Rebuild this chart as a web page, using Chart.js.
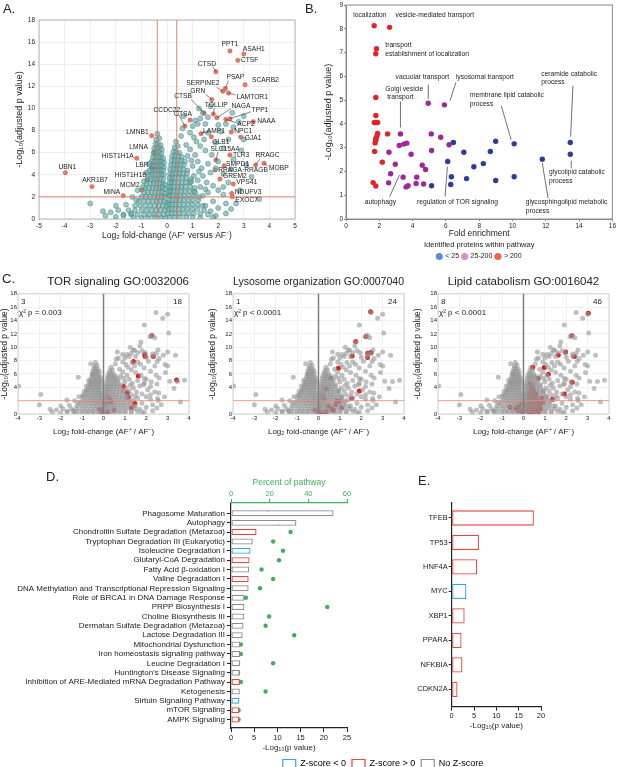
<!DOCTYPE html>
<html>
<head>
<meta charset="utf-8">
<script src="https://cdn.jsdelivr.net/npm/chart.js@4.4.1/dist/chart.umd.min.js"></script>
<style>
  html, body { margin: 0; padding: 0; background: #fff; overflow: hidden; }
  #fig { position: relative; width: 617px; height: 767px; overflow: hidden; font-family: "Liberation Sans", Arial, Helvetica, sans-serif; }
  canvas { position: absolute; }
  .tag { position: absolute; font-size: 13px; color: #222; line-height: 1; }
</style>
</head>
<body>
<div id="fig">
  <canvas id="volcano" width="300" height="241" style="left:0;top:0"></canvas>
  <canvas id="enrich" width="297" height="270" style="left:320px;top:0"></canvas>
  <canvas id="goTor" width="200" height="165" style="left:0;top:272px"></canvas>
  <canvas id="goLyso" width="205" height="165" style="left:205px;top:272px"></canvas>
  <canvas id="goLipid" width="207" height="165" style="left:410px;top:272px"></canvas>
  <canvas id="ipa" width="766" height="308" style="left:0;top:470px"></canvas>
  <canvas id="regulators" width="207" height="241" style="left:410px;top:490px"></canvas>
  <div class="tag" style="left:3px;top:2px">A.</div>
  <div class="tag" style="left:305px;top:2px">B.</div>
  <div class="tag" style="left:2px;top:272px">C.</div>
  <div class="tag" style="left:46px;top:470px">D.</div>
  <div class="tag" style="left:418px;top:474px">E.</div>
</div>
<script>
Chart.defaults.font.family = '"Liberation Sans", Arial, Helvetica, sans-serif';
Chart.defaults.color = '#222';

// ---- A: volcano plot (log2 FC, -log10 adj p) ----
const fcCut = 0.38;
const pCut = 2;

// dense left arm of the cloud
const cloudLeftArm = [
  [-0.38,7.7],[-0.3,7.3],[-0.42,7.2],
  [-0.45,6.8],[-0.35,6.8],[-0.25,6.7],
  [-0.5,6.4],[-0.4,6.4],[-0.3,6.4],[-0.2,6.3],
  [-0.52,6.0],[-0.42,6.0],[-0.32,6.0],[-0.22,5.9],
  [-0.55,5.6],[-0.45,5.6],[-0.35,5.6],[-0.25,5.6],[-0.15,5.5],
  [-0.6,5.2],[-0.5,5.2],[-0.4,5.2],[-0.3,5.2],[-0.2,5.2],[-0.12,5.1],
  [-0.62,4.8],[-0.52,4.8],[-0.42,4.8],[-0.32,4.8],[-0.22,4.8],[-0.12,4.7],
  [-0.68,4.4],[-0.56,4.4],[-0.45,4.4],[-0.35,4.4],[-0.25,4.4],[-0.15,4.4],
  [-0.7,4.0],[-0.58,4.0],[-0.46,4.0],[-0.34,4.0],[-0.22,4.0],[-0.12,4.0],
  [-0.75,3.6],[-0.62,3.6],[-0.5,3.6],[-0.38,3.6],[-0.26,3.6],[-0.14,3.6],
  [-0.8,3.2],[-0.66,3.2],[-0.52,3.2],[-0.4,3.2],[-0.28,3.2],[-0.16,3.2],[-0.08,3.1],
  [-0.85,2.8],[-0.7,2.8],[-0.56,2.8],[-0.42,2.8],[-0.3,2.8],[-0.18,2.8],[-0.08,2.7],
  [-0.9,2.4],[-0.75,2.4],[-0.6,2.4],[-0.46,2.4],[-0.32,2.4],[-0.2,2.4],[-0.08,2.3],
  [-1.0,2.0],[-0.82,2.0],[-0.66,2.0],[-0.5,2.0],[-0.36,2.0],[-0.22,2.0],[-0.1,2.0],
  [-1.1,1.6],[-0.9,1.6],[-0.72,1.6],[-0.56,1.6],[-0.4,1.6],[-0.26,1.6],[-0.12,1.6],[0.0,1.5],
  [-1.25,1.2],[-1.05,1.2],[-0.85,1.2],[-0.66,1.2],[-0.48,1.2],[-0.32,1.2],[-0.16,1.2],[-0.02,1.1],
  [-1.5,0.8],[-1.25,0.8],[-1.0,0.8],[-0.8,0.8],[-0.6,0.8],[-0.42,0.8],[-0.25,0.8],[-0.08,0.8],
  [-1.7,0.4],[-1.4,0.4],[-1.15,0.4],[-0.9,0.4],[-0.7,0.4],[-0.5,0.4],[-0.3,0.4],[-0.12,0.4],
  [-1.3,0.1],[-1.0,0.1],[-0.75,0.1],[-0.5,0.15],[-0.25,0.1],[-0.05,0.1]
];

// dense right arm of the cloud
const cloudRightArm = [
  [0.35,7.0],[0.42,6.6],[0.3,6.5],
  [0.25,6.1],[0.35,6.1],[0.48,6.0],
  [0.2,5.7],[0.32,5.7],[0.44,5.7],[0.58,5.6],
  [0.18,5.3],[0.3,5.3],[0.42,5.3],[0.55,5.3],[0.7,5.2],
  [0.15,4.9],[0.27,4.9],[0.4,4.9],[0.52,4.9],[0.66,4.9],
  [0.13,4.5],[0.25,4.5],[0.38,4.5],[0.5,4.5],[0.64,4.5],[0.8,4.4],
  [0.12,4.1],[0.22,4.1],[0.35,4.1],[0.48,4.1],[0.62,4.1],[0.78,4.1],
  [0.1,3.7],[0.2,3.7],[0.32,3.7],[0.45,3.7],[0.6,3.7],[0.75,3.7],[0.92,3.6],
  [0.1,3.3],[0.18,3.3],[0.3,3.3],[0.43,3.3],[0.58,3.3],[0.74,3.3],[0.9,3.3],
  [0.08,2.9],[0.16,2.9],[0.28,2.9],[0.42,2.9],[0.56,2.9],[0.72,2.9],[0.9,2.9],[1.08,2.8],
  [0.07,2.5],[0.14,2.5],[0.26,2.5],[0.4,2.5],[0.55,2.5],[0.7,2.5],[0.88,2.5],[1.06,2.5],
  [0.06,2.1],[0.12,2.1],[0.24,2.1],[0.38,2.1],[0.52,2.1],[0.68,2.1],[0.86,2.1],[1.05,2.1],[1.25,2.0],
  [0.1,1.7],[0.22,1.7],[0.36,1.7],[0.5,1.7],[0.66,1.7],[0.84,1.7],[1.02,1.7],[1.22,1.7],
  [0.08,1.3],[0.2,1.3],[0.34,1.3],[0.48,1.3],[0.64,1.3],[0.82,1.3],[1.0,1.3],[1.2,1.3],[1.4,1.2],
  [0.06,0.9],[0.18,0.9],[0.32,0.9],[0.46,0.9],[0.62,0.9],[0.8,0.9],[1.0,0.9],[1.2,0.9],[1.45,0.8],
  [0.05,0.5],[0.18,0.5],[0.32,0.5],[0.48,0.5],[0.65,0.5],[0.85,0.5],[1.05,0.5],[1.3,0.45],[1.6,0.4],
  [0.1,0.15],[0.3,0.15],[0.5,0.15],[0.75,0.15],[1.0,0.15],[1.3,0.1]
];

// sparser proteins around the arms
const cloudScatter = [
  [0.55,7.5],[0.6,8.2],[0.65,9.3],[0.75,6.7],[0.9,7.8],[1.0,8.4],[1.05,7.4],[1.1,8.9],
  [1.2,8.6],[1.25,10.0],[1.3,9.1],[1.4,9.6],[1.45,7.2],[1.5,8.6],[1.6,9.2],[1.7,10.2],
  [1.3,6.6],[0.9,6.3],[0.8,5.7],[1.1,5.8],[1.5,6.2],[1.2,5.2],[1.0,4.8],[1.35,4.6],
  [1.6,5.0],[1.7,4.2],[1.4,3.9],[1.2,3.5],[1.55,3.3],[1.8,3.0],[1.3,2.9],[2.0,2.6],
  [1.6,2.4],[2.2,2.2],[1.4,2.1],[1.8,1.6],[2.3,1.4],[2.7,1.4],[1.5,1.2],[2.0,1.0],
  [1.7,0.7],[2.2,2.9],[2.4,3.3],[2.2,4.1],[1.9,4.6],[2.5,4.5],[2.0,5.2],[2.6,5.4],
  [1.75,5.8],[2.2,6.4],[1.9,6.9],[2.4,7.2],[2.1,7.9],[2.6,8.3],[2.3,8.6],[2.8,8.8],
  [2.55,9.6],[3.0,9.3],[2.0,8.5],[2.9,6.2],[3.1,4.9],[3.3,3.8],[3.6,1.8],[2.85,2.6],
  [3.0,7.2],[1.15,7.0],[1.6,7.8],[0.95,5.3],[1.25,4.3],[1.05,3.9],[0.95,3.4],[1.5,2.7],
  [1.1,2.4],[1.9,0.3],[2.3,0.5],[2.5,0.9],[1.8,0.15],
  [-0.9,3.4],[-1.15,2.6],[-1.35,2.0],[-1.2,1.7],[-1.6,1.3],[-2.0,1.2],[-1.9,0.8],
  [-2.2,0.6],[-2.5,0.7],[-1.4,0.5],[-3.0,1.4],[-0.7,5.0],[-0.8,4.2],[-0.95,2.9],
  [-1.7,0.3],[-2.4,0.3],[-2.0,0.2]
];

// labelled proteins
const aGenes = ['PPT1','ASAH1','CTSF','CTSD','PSAP','SERPINE2','LAMTOR1','SCARB2','GRN','CTSB',
  'TOLLIP','NAGA','TPP1','CTSA','CCDC22','ACP2','NAAA','LAMP1','NPC1','GJA1','GLB1',
  'LMNB1','LMNA','HIST1H1A','LBR','HIST1H1B','MCM2','MINA','UBN1','AKR1B7',
  'SLC15A4','TLR3','RRAGC','MOBP','SMPD1','RRAGA·RRAGB','GREM2','VPS41','NDUFV3','EXOC7'];
const aLogFC = [2.46,3.0,2.77,1.91,2.28,2.18,2.4,3.05,1.75,1.45,
  1.81,1.95,2.46,0.9,0.7,2.3,3.37,1.33,2.51,2.88,1.73,
  -0.6,-0.51,-1.18,-0.6,-0.79,-0.99,-1.71,-3.97,-2.93,
  1.91,2.46,3.46,3.79,2.23,1.88,2.07,2.59,2.53,2.55];
const aLogP = [15.2,14.92,14.35,13.32,11.8,11.55,11.4,12.14,10.8,9.56,
  9.49,9.16,9.07,8.95,8.4,9.0,8.8,7.72,7.87,7.41,7.44,
  7.53,6.0,5.49,4.58,3.55,2.62,2.11,4.19,2.93,
  5.33,5.79,4.88,5.04,4.82,4.43,3.62,3.16,2.32,2.02];

// label placement: [dx, dy, align, leaderX, leaderY] in pixels from the point
const aLabelLayout = {
  PPT1:[0,-7,'center'], ASAH1:[-1,-5,'left'], CTSF:[3,0,'left'], CTSD:[-9,-8,'center',-3,-5],
  PSAP:[10,-11,'center',3,-8], SERPINE2:[-20,-8,'center',-6,-4], LAMTOR1:[8,4,'left',7,2],
  SCARB2:[7,-5,'left'], GRN:[-14,-8,'center',-6,-5], CTSB:[-21,-17,'center',-13,-14],
  TOLLIP:[3,-9,'center',1,-6], NAGA:[24,-12,'center',14,-9], TPP1:[30,-9,'center',21,-7],
  CTSA:[-7,-6,'center'], CCDC22:[-18,-16,'center',-7,-13], ACP2:[20,5,'center',10,3],
  NAAA:[4,-1,'left'], LAMP1:[13,-3,'center',4,-2], NPC1:[3,-1,'left'], GJA1:[4,1,'left'],
  GLB1:[1,5,'left'], LMNB1:[-3,-4,'right'], LMNA:[-6,-6,'right'], HIST1H1A:[-3,-2,'right'],
  LBR:[-3,-3,'right'], HIST1H1B:[0,-5,'right'], MCM2:[-2,-5,'right'], MINA:[-3,-4,'right'],
  UBN1:[2,-6,'center'], AKR1B7:[3,-6,'center'], SLC15A4:[9,-11,'center',2,-8], TLR3:[3,0,'left'],
  RRAGC:[12,-10,'center',4,-6], MOBP:[5,5,'left',4,3], SMPD1:[2,-2,'left'], 'RRAGA·RRAGB':[3,0,'left'],
  GREM2:[3,-3,'left'], VPS41:[3,-2,'left'], NDUFV3:[3,-1.5,'left'], EXOC7:[3,3,'left']
};

// ---- B: GO enrichment ----
const bLowX = [6.45,8.99,10.1,13.47,7.08,8.67,13.47,11.79,6.11,8.25,7.68,6.33,10.1,7.24,8.99,6.29,5.14];
const bLowY = [3.22,3.27,3.16,3.22,2.81,2.84,2.72,2.51,2.42,2.33,2.2,1.78,1.78,1.7,1.62,1.45,1.4];
const bMidX = [4.94,5.91,3.27,5.12,5.69,3.2,3.47,3.65,6.19,2.58,5.14,3.91,2.96,4.58,4.78,2.68,3.43,4.25,2.56,4.21,4.66,3.61,3.73];
const bMidY = [4.87,4.8,3.58,3.58,3.44,3.09,3.15,3.19,3.12,2.81,2.88,2.72,2.3,2.26,2.08,1.9,1.76,1.76,1.52,1.49,1.47,1.35,1.4];
const bHighX = [1.69,2.62,1.83,1.79,1.79,1.79,1.7,1.8,1.9,1.9,1.85,1.8,1.75,1.78,2.5,1.72,2.18,1.63,1.79];
const bHighY = [8.13,8.06,7.16,6.95,5.11,4.35,4.06,4.06,4.06,3.6,3.48,3.32,3.2,3.38,3.58,2.84,2.39,1.53,1.39];
const bGroups = ['< 25', '25-200', '> 200'];

const bNotes = [
  { t: ['localization'], x: 0.44, y: 8.57 },
  { t: ['vesicle-mediated transport'], x: 2.98, y: 8.57 },
  { t: ['transport', 'establishment of localization'], x: 2.36, y: 7.3 },
  { t: ['vacuolar transport'], x: 2.98, y: 5.96, l: [4.94, 5.65, 4.94, 5.05] },
  { t: ['lysosomal transport'], x: 6.6, y: 5.96, l: [6.6, 5.74, 6.25, 4.98] },
  { t: ['Golgi vesicle', ' transport'], x: 2.36, y: 5.46, l: [3.27, 4.94, 3.27, 3.85] },
  { t: ['membrane lipid catabolic', 'process'], x: 7.44, y: 5.2, l: [9.33, 4.76, 9.92, 3.33] },
  { t: ['ceramide catabolic', 'process'], x: 11.73, y: 6.11, l: [13.63, 5.6, 13.49, 3.47] },
  { t: ['glycolipid catabolic', 'process'], x: 12.2, y: 1.95, l: [13.53, 2.44, 13.53, 2.13] },
  { t: ['glycosphingolipid metabolic', 'process'], x: 10.8, y: 0.69, l: [12.14, 0.87, 11.79, 2.35] },
  { t: ['autophagy'], x: 1.13, y: 0.72, l: [2.62, 0.94, 3.21, 1.85] },
  { t: ['regulation of TOR signaling'], x: 4.27, y: 0.72, l: [5.95, 0.94, 6.09, 2.2] }
];

// ---- C: GO term members on the volcano ----
const cTorX = [2.25,1.93,1.95,2.33,1.4,3.42,1.63,0.94,1.11,1.16,1.46,1.3,0.23,0.3,0.15,0.5,0.2,0.35,-0.16,-0.08,-0.02];
const cTorY = [11.7,8.9,8.6,8.6,7.85,5.1,5.7,4.1,3.2,2.5,1.6,0.95,2.5,2.1,1.6,0.6,0.35,1.8,0.7,0.35,0.15];
const cLysoX = [2.44,2.22,1.74,1.57,2.3,2.46,2.3,0.93,0.57,1.91,0.37,0.18,0.27,0.85,0.97,1.55,1.08,0.6,0.7,0.02,0.15,0.45,0.8,0.35,-0.16];
const cLysoY = [15.3,11.6,10.85,8.7,9.1,9.2,8.45,6.85,5.35,3.45,3.75,2.75,2.2,1.95,1.9,2.35,0.95,0.8,0.55,0.25,0.2,1.2,1.4,0.35,0.6];
const cLipidX = [3.03,2.25,1.97,2.38,1.63,0.43,0.97,0.69,1.16,2.28,1.91,1.35,
  0.3,0.4,0.35,0.45,0.3,0.5,0.35,0.42,0.55,0.3,0.6,0.25,0.4,0.7,0.2,0.5,0.75,0.3,0.45,0.62,0.2,0.35,0.8,0.15,0.5,0.7,0.28,0.9,0.85,0.6,0.25,0.55,0.12,0.4,
  -0.63,-0.2,-0.15,-0.1,-0.05,-0.25,-0.35,-0.1];
const cLipidY = [15.1,11.7,9.3,8.6,8.85,7.0,6.95,5.35,5.95,4.75,3.0,2.2,
  4.5,4.2,3.9,3.6,3.4,3.2,3.0,2.7,2.5,2.4,2.2,2.1,1.9,1.8,1.7,1.5,1.4,1.3,1.1,1.0,0.9,0.7,0.8,0.5,0.4,0.35,0.2,1.7,2.4,3.0,2.8,0.7,1.2,0.25,
  1.0,1.2,0.8,0.4,0.2,0.5,0.9,1.5];

// ---- D: canonical pathways ----
const dPathways = ['Phagosome Maturation','Autophagy','Chondroitin Sulfate Degradation (Metazoa)',
  'Tryptophan Degradation III (Eukaryotic)','Isoleucine Degradation I','Glutaryl-CoA Degradation',
  'Fatty Acid β-oxidation I','Valine Degradation I','DNA Methylation and Transcriptional Repression Signaling',
  'Role of BRCA1 in DNA Damage Response','PRPP Biosynthesis I','Choline Biosynthesis III',
  'Dermatan Sulfate Degradation (Metazoa)','Lactose Degradation III','Mitochondrial Dysfunction',
  'Iron homeostasis signaling pathway','Leucine Degradation I',"Huntington's Disease Signaling",
  'Inhibition of ARE-Mediated mRNA Degradation Pathway','Ketogenesis','Sirtuin Signaling Pathway',
  'mTOR Signaling','AMPK Signaling'];
const dLogP = [22.1,14.1,5.5,4.7,4.2,4.0,3.9,3.8,3.8,2.9,2.9,2.9,2.7,2.5,2.0,2.0,2.0,1.9,1.9,1.9,1.8,1.8,1.8];
const dZ = ['none','none','pos','none','neg','pos','none','pos','none','none','none','none','none','none',
  'none','none','none','none','pos','none','neg','pos','pos'];
const dPercent = [18.9,24.8,30.8,21.8,26.9,24.8,15.8,21.8,15.0,7.7,49.8,19.7,17.9,32.7,5.1,5.1,21.8,3.7,5.1,17.9,3.1,3.9,3.9];

// ---- E: upstream regulators ----
const eRegulators = ['TFEB','TP53','HNF4A','MYC','XBP1','PPARA','NFKBIA','CDKN2A'];
const eLogP = [18.4,6.1,5.7,3.3,2.9,2.2,2.4,1.3];
const eZ = ['pos','pos','pos','neg','pos','pos','pos','pos'];

const zColors = { neg: '#2fa8df', pos: '#e5463e', none: '#8e8e8e' };
const zNames = { neg: 'Z-score < 0', pos: 'Z-score > 0', none: 'No Z-score' };
const green = '#3fae5f';

function pts(xs, ys) { return xs.map((x, i) => ({ x: x, y: ys[i] })); }
const cloudPts = cloudLeftArm.concat(cloudRightArm, cloudScatter).map(p => ({ x: p[0], y: p[1] }));
const genePts = pts(aLogFC, aLogP);

const frame = {
  id: 'frame',
  beforeDatasetsDraw(chart, args, opts) {
    const a = chart.chartArea, ctx = chart.ctx;
    ctx.save();
    ctx.strokeStyle = opts.color || '#aaa';
    ctx.lineWidth = opts.width || 1;
    ctx.strokeRect(a.left, a.top, a.right - a.left, a.bottom - a.top);
    ctx.restore();
  }
};

// A: threshold lines + gene labels
const volcanoMarks = {
  id: 'volcanoMarks',
  afterDatasetDraw(chart, args) {
    if (args.index !== 0) return;
    const { ctx, chartArea: a } = chart;
    const x = chart.scales.x, y = chart.scales.y;
    ctx.save();
    ctx.strokeStyle = 'rgba(226,118,98,0.9)';
    ctx.lineWidth = 1;
    [-fcCut, fcCut].forEach(v => {
      const px = x.getPixelForValue(v);
      ctx.beginPath(); ctx.moveTo(px, a.top); ctx.lineTo(px, a.bottom); ctx.stroke();
    });
    const py = y.getPixelForValue(pCut);
    ctx.beginPath(); ctx.moveTo(a.left, py); ctx.lineTo(a.right, py); ctx.stroke();
    ctx.restore();
  },
  afterDatasetsDraw(chart) {
    const ctx = chart.ctx;
    const x = chart.scales.x, y = chart.scales.y;
    ctx.save();
    ctx.font = '6.7px "Liberation Sans", Arial, sans-serif';
    ctx.fillStyle = '#222';
    ctx.strokeStyle = '#333';
    ctx.lineWidth = 0.6;
    ctx.textBaseline = 'middle';
    aGenes.forEach((g, i) => {
      const lay = aLabelLayout[g];
      const px = x.getPixelForValue(aLogFC[i]), py = y.getPixelForValue(aLogP[i]);
      if (lay.length > 3) {
        ctx.beginPath(); ctx.moveTo(px, py); ctx.lineTo(px + lay[3], py + lay[4]); ctx.stroke();
      }
      ctx.textAlign = lay[2];
      ctx.fillText(g, px + lay[0], py + lay[1]);
    });
    ctx.restore();
  }
};

new Chart(document.getElementById('volcano'), {
  type: 'scatter',
  data: {
    datasets: [
      { data: cloudPts, pointRadius: 2.5, backgroundColor: 'rgba(100,164,162,0.62)', borderColor: 'rgba(62,132,130,0.8)', borderWidth: 0.6 },
      { data: genePts, pointRadius: 2.2, backgroundColor: '#e57965', borderColor: '#d45b47', borderWidth: 0.5 }
    ]
  },
  options: {
    responsive: false,
    animation: false,
    layout: { padding: { top: 20, right: 5, left: 0, bottom: 0 } },
    plugins: { legend: { display: false }, tooltip: { enabled: false }, frame: { color: '#b5b5b5' } },
    scales: {
      x: {
        type: 'linear', min: -5, max: 5,
        ticks: { stepSize: 1, font: { size: 6.5 }, padding: 1, maxRotation: 0 },
        grid: { color: '#efefef', tickLength: 2 },
        border: { display: false },
        title: { display: true, text: 'Log₂ fold-change (AF⁺ versus AF⁻)', font: { size: 8.5 }, padding: { top: 1, bottom: 0 } },
        afterFit: s => { s.height = 22; }
      },
      y: {
        min: 0, max: 18,
        ticks: { stepSize: 2, font: { size: 6.5 }, padding: 2 },
        grid: { color: '#efefef', tickLength: 2 },
        border: { display: false },
        title: { display: true, text: '-Log₁₀(adjusted p value)', font: { size: 9 }, padding: { top: 14, bottom: 0 } },
        afterFit: s => { s.width = 39; }
      }
    }
  },
  plugins: [frame, volcanoMarks]
});

// B: enrichment scatter with annotations
const enrichNotes = {
  id: 'enrichNotes',
  afterDatasetsDraw(chart) {
    const ctx = chart.ctx;
    const x = chart.scales.x, y = chart.scales.y;
    ctx.save();
    ctx.font = '6.7px "Liberation Sans", Arial, sans-serif';
    ctx.fillStyle = '#222';
    ctx.strokeStyle = '#333';
    ctx.lineWidth = 0.7;
    ctx.textAlign = 'left';
    ctx.textBaseline = 'middle';
    bNotes.forEach(n => {
      n.t.forEach((line, k) => ctx.fillText(line, x.getPixelForValue(n.x), y.getPixelForValue(n.y) + k * 8.3));
      if (n.l) {
        ctx.beginPath();
        ctx.moveTo(x.getPixelForValue(n.l[0]), y.getPixelForValue(n.l[1]));
        ctx.lineTo(x.getPixelForValue(n.l[2]), y.getPixelForValue(n.l[3]));
        ctx.stroke();
      }
    });
    ctx.restore();
  }
};

const bLegendColors = ['#5b8ed6', '#d290cf', '#f0643f'];
new Chart(document.getElementById('enrich'), {
  type: 'scatter',
  data: {
    datasets: [
      { label: bGroups[0], data: pts(bLowX, bLowY), backgroundColor: '#2c3c9c', pointRadius: 2.7, borderWidth: 0 },
      { label: bGroups[1], data: pts(bMidX, bMidY), backgroundColor: '#a0269b', pointRadius: 2.7, borderWidth: 0 },
      { label: bGroups[2], data: pts(bHighX, bHighY), backgroundColor: '#e3232a', pointRadius: 2.7, borderWidth: 0 }
    ]
  },
  options: {
    responsive: false,
    animation: false,
    layout: { padding: { top: 5, right: 2, left: 0, bottom: 0 } },
    plugins: {
      tooltip: { enabled: false },
      frame: { color: '#8a8a8a' },
      legend: {
        position: 'bottom',
        fullSize: false,
        labels: {
          usePointStyle: true, boxWidth: 5, boxHeight: 5, padding: 3,
          font: { size: 7 },
          generateLabels: chart => chart.data.datasets.map((d, i) => ({
            text: d.label, fillStyle: bLegendColors[i], strokeStyle: bLegendColors[i],
            lineWidth: 0, pointStyle: 'circle', hidden: false, datasetIndex: i
          }))
        },
        title: { display: true, text: 'Identified proteins within pathway', font: { size: 7.5 }, padding: { top: 2, bottom: 0 } }
      }
    },
    scales: {
      x: {
        type: 'linear', min: 0, max: 16,
        ticks: { stepSize: 2, font: { size: 6.5 }, padding: 1, maxRotation: 0 },
        grid: { drawOnChartArea: false, tickLength: 2, color: '#8a8a8a' },
        border: { color: '#8a8a8a' },
        title: { display: true, text: 'Fold enrichment', font: { size: 8.5 }, padding: { top: 1, bottom: 0 } },
        afterFit: s => { s.height = 20; }
      },
      y: {
        min: 0, max: 9,
        ticks: { stepSize: 1, font: { size: 6.5 }, padding: 1 },
        grid: { drawOnChartArea: false, tickLength: 2, color: '#8a8a8a' },
        border: { color: '#8a8a8a' },
        title: { display: true, text: '-Log₁₀(adjusted p value)', font: { size: 9 }, padding: { top: 3, bottom: 0 } },
        afterFit: s => { s.width = 26; }
      }
    }
  },
  plugins: [frame, enrichNotes]
});

// C: three GO-term volcano panels
const goMarks = {
  id: 'goMarks',
  afterDatasetDraw(chart, args) {
    if (args.index !== 0) return;
    const { ctx, chartArea: a } = chart;
    const x = chart.scales.x, y = chart.scales.y;
    ctx.save();
    ctx.lineWidth = 1;
    ctx.strokeStyle = 'rgba(238,140,120,0.8)';
    const py = y.getPixelForValue(pCut);
    ctx.beginPath(); ctx.moveTo(a.left, py); ctx.lineTo(a.right, py); ctx.stroke();
    ctx.strokeStyle = '#7d7d7d';
    ctx.lineWidth = 1.5;
    const px = x.getPixelForValue(0);
    ctx.beginPath(); ctx.moveTo(px, a.top); ctx.lineTo(px, a.bottom); ctx.stroke();
    ctx.restore();
  },
  afterDatasetsDraw(chart, args, opts) {
    const { ctx, chartArea: a } = chart;
    ctx.save();
    ctx.font = '8px "Liberation Sans", Arial, sans-serif';
    ctx.fillStyle = '#222';
    ctx.textBaseline = 'middle';
    ctx.textAlign = 'left';
    ctx.fillText(String(opts.counts[0]), a.left + 3, a.top + 8);
    ctx.fillText(opts.stat, a.left + 1, a.top + 19);
    ctx.textAlign = 'right';
    ctx.fillText(String(opts.counts[1]), a.right - 7, a.top + 8);
    ctx.restore();
  }
};

function goPanel(id, title, redX, redY, counts, stat, axisW, padRight, titleShift, titleAlign) {
  new Chart(document.getElementById(id), {
    type: 'scatter',
    data: {
      datasets: [
        { data: cloudPts.concat(genePts), pointRadius: 2.5, backgroundColor: 'rgba(150,150,150,0.6)', borderWidth: 0 },
        { data: pts(redX, redY), pointRadius: 2.5, backgroundColor: '#e3171c', borderWidth: 0 }
      ]
    },
    options: {
      responsive: false,
      animation: false,
      layout: { padding: { top: 0, right: padRight, left: 0, bottom: 0 } },
      plugins: {
        legend: { display: false },
        tooltip: { enabled: false },
        frame: { color: '#d0d0d0' },
        title: { display: true, text: title, fullSize: false, align: titleAlign, font: { size: 11.5, weight: 'normal' }, color: '#222', padding: { top: 3, bottom: 5 } },
        goMarks: { counts: counts, stat: stat }
      },
      scales: {
        x: {
          type: 'linear', min: -4, max: 4,
          ticks: { stepSize: 1, font: { size: 6 }, padding: 1, maxRotation: 0 },
          grid: { color: '#f1f1f1', tickLength: 0 },
          border: { display: false },
          title: { display: true, text: 'Log₂ fold-change (AF⁺ / AF⁻)', font: { size: 8 }, padding: { top: 1, bottom: 0 } },
          afterFit: s => { s.height = 23; }
        },
        y: {
          min: 0, max: 18,
          ticks: { stepSize: 2, font: { size: 6 }, padding: 1, callback: v => (v === 2 ? '' : v) },
          grid: { color: '#f1f1f1', tickLength: 0 },
          border: { display: false },
          title: { display: true, text: '-Log₁₀(adjusted p value)', font: { size: 8.5 }, padding: { top: titleShift, bottom: 0 } },
          afterFit: s => { s.width = axisW; }
        }
      }
    },
    plugins: [frame, goMarks]
  });
}

goPanel('goTor', 'TOR signaling GO:0032006', cTorX, cTorY, [3, 18], 'χ² p = 0.003', 18, 11, 0, 'end');
goPanel('goLyso', 'Lysosome organization GO:0007040', cLysoX, cLysoY, [1, 24], 'χ² p < 0.0001', 28, 6, 3, 'center');
goPanel('goLipid', 'Lipid catabolism GO:0016042', cLipidX, cLipidY, [8, 46], 'χ² p < 0.0001', 28, 8, 3, 'center');

// D: pathways, -log10 p bars + percent of pathway dots
const zLegend = ['neg', 'pos', 'none'].map(k => ({
  text: zNames[k], fillStyle: '#fff', strokeStyle: zColors[k], lineWidth: 1.2, hidden: false
}));

new Chart(document.getElementById('ipa'), {
  type: 'bar',
  data: {
    datasets: [
      {
        type: 'bar', indexAxis: 'y', xAxisID: 'x', yAxisID: 'y',
        data: dLogP.map((v, i) => ({ x: v, y: i })),
        backgroundColor: '#fff', borderColor: dZ.map(z => zColors[z]), borderWidth: 1.3,
        borderSkipped: false, barPercentage: 0.64, categoryPercentage: 1
      },
      {
        type: 'scatter', xAxisID: 'xTop', yAxisID: 'y',
        data: dPercent.map((v, i) => ({ x: v, y: i })),
        backgroundColor: green, pointRadius: 2.2, borderWidth: 0
      }
    ]
  },
  options: {
    indexAxis: 'y',
    responsive: false,
    animation: false,
    layout: { padding: 0 },
    plugins: {
      tooltip: { enabled: false },
      legend: {
        position: 'bottom', align: 'center',
        labels: { boxWidth: 13, boxHeight: 8, padding: 6, font: { size: 9 }, generateLabels: () => zLegend }
      }
    },
    scales: {
      y: {
        type: 'linear', reverse: true, min: -1.1, max: 22.9, offset: false,
        afterBuildTicks: s => { s.ticks = dPathways.map((p, i) => ({ value: i })); },
        ticks: { autoSkip: false, font: { size: 8 }, padding: 2, callback: v => dPathways[v] },
        grid: { drawOnChartArea: false, offset: false, tickLength: 4, color: '#222', lineWidth: 1 },
        border: { color: '#222', width: 1.2 },
        afterFit: s => { s.width = 231; }
      },
      // empty right-hand axis that reserves the space to the right of the plot
      gap: {
        type: 'linear', position: 'right', display: true,
        ticks: { display: false }, grid: { display: false }, border: { display: false },
        afterFit: s => { s.width = 419; }
      },
      x: {
        type: 'linear', position: 'bottom', min: 0, max: 25,
        ticks: { stepSize: 5, font: { size: 7.5 }, padding: 1, maxRotation: 0 },
        grid: { drawOnChartArea: false, tickLength: 4, color: '#222' },
        border: { color: '#222', width: 1.2 },
        title: { display: true, text: '-Log₁₀(p value)', font: { size: 8 }, padding: { top: 3, bottom: 0 } },
        afterFit: s => { s.height = 25; }
      },
      xTop: {
        type: 'linear', position: 'top', min: 0, max: 60,
        ticks: { stepSize: 20, color: green, font: { size: 7.5 }, padding: 1, maxRotation: 0 },
        grid: { drawOnChartArea: false, tickLength: 4, color: green },
        border: { color: green, width: 1.2 },
        title: { display: true, text: 'Percent of pathway', color: green, font: { size: 8.5 }, padding: { top: 8, bottom: 0 } },
        afterFit: s => { s.height = 33; }
      }
    }
  }
});

// E: upstream regulators
new Chart(document.getElementById('regulators'), {
  type: 'bar',
  data: {
    datasets: [{
      indexAxis: 'y',
      data: eLogP.map((v, i) => ({ x: v, y: i })),
      backgroundColor: '#fff', borderColor: eZ.map(z => zColors[z]), borderWidth: 1.3,
      borderSkipped: false, barPercentage: 0.625, categoryPercentage: 1
    }]
  },
  options: {
    indexAxis: 'y',
    responsive: false,
    animation: false,
    layout: { padding: { top: 12.7, right: 76, left: 0, bottom: 0 } },
    plugins: { legend: { display: false }, tooltip: { enabled: false } },
    scales: {
      y: {
        type: 'linear', reverse: true, min: -0.625, max: 7.71, offset: false,
        afterBuildTicks: s => { s.ticks = eRegulators.map((r, i) => ({ value: i })); },
        ticks: { autoSkip: false, font: { size: 7.5 }, padding: 1, callback: v => eRegulators[v] },
        grid: { drawOnChartArea: false, offset: false, tickLength: 3, color: '#222' },
        border: { color: '#222', width: 1.2 },
        afterFit: s => { s.width = 41.7; }
      },
      x: {
        type: 'linear', min: 0, max: 20,
        ticks: { stepSize: 5, font: { size: 7.5 }, padding: 1, maxRotation: 0 },
        grid: { drawOnChartArea: false, tickLength: 4, color: '#222' },
        border: { color: '#222', width: 1.2 },
        title: { display: true, text: '-Log₁₀(p value)', font: { size: 8 }, padding: { top: 1, bottom: 0 } },
        afterFit: s => { s.height = 24.3; }
      }
    }
  }
});
</script>
</body>
</html>
